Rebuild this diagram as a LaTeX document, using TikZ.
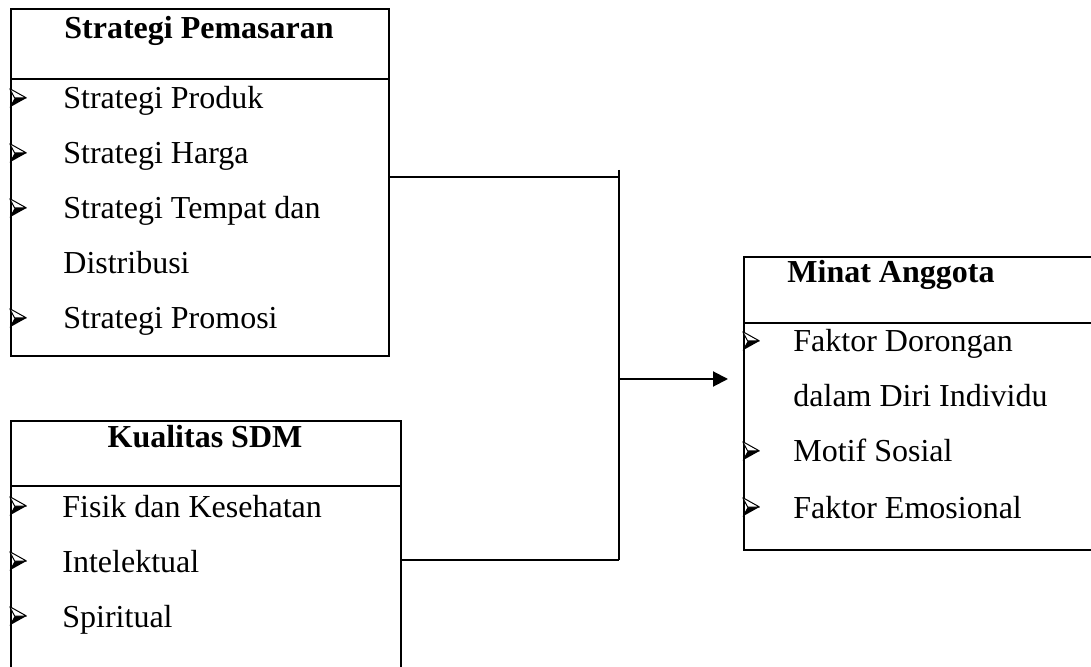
\documentclass[tikz,border=0pt]{standalone}
\usepackage{fontspec}
\setmainfont{Liberation Serif}
\usetikzlibrary{arrows.meta}
\tikzset{
  frame/.style={ % image of one variable box
    draw, rectangle, line width=1pt,
    anchor=north west, inner sep=0pt
  },
  rule/.style={ % line under the heading of a box
    line width=1pt
  },
  heading/.style={ % bold name of a variable
    anchor=base, inner sep=0pt,
    font=\fontsize{16}{19}\selectfont\bfseries
  },
  entry/.style={ % one line of an indicator
    anchor=base west, inner sep=0pt,
    font=\fontsize{16}{19}\selectfont
  },
  bulletmark/.style={ % 3-D arrowhead in front of an indicator
    rectangle, inner sep=0pt, minimum width=8.5pt, minimum height=9.5pt,
    path picture = {
      \fill[black]
      (path picture bounding box.east) --
      ([xshift=2.6pt]path picture bounding box.west) --
      (path picture bounding box.south west) -- cycle;
      \draw[black, line width=0.5pt, fill=white]
      (path picture bounding box.east) --
      (path picture bounding box.north west) --
      ([xshift=2.6pt]path picture bounding box.west) -- cycle;
    }
  },
  link/.style={
    line width=1pt
  }
}
\begin{document}
\begin{tikzpicture}[x=0.5pt, y=-0.5pt]
      \useasboundingbox (0,0) rectangle (1091,667);
      \clip (0,0) rectangle (1091,667);

      % boxes
      \node[frame, minimum width=189pt, minimum height=173.5pt] (pem) at (10,8) {};
      \node[frame, minimum width=195pt, minimum height=145pt] (sdm) at (10,420) {};
      \node[frame, minimum width=185pt, minimum height=146.5pt] (minat) at (743,256) {};

      \draw[rule] ([yshift=-35.5pt]pem.north west) -- ([yshift=-35.5pt]pem.north east);
      \draw[rule] ([yshift=-33pt]sdm.north west) -- ([yshift=-33pt]sdm.north east);
      \draw[rule] ([yshift=-33.5pt]minat.north west) -- ([yshift=-33.5pt]minat.north east);

      % headings
      \node[heading] (pem_head) at (199,39) {Strategi Pemasaran};
      \node[heading] (sdm_head) at (205,448) {Kualitas SDM};
      \node[heading, anchor=base west] (minat_head) at (787,283) {Minat Anggota};

      % Strategi Pemasaran
      \node[bulletmark] (p1_b) at (18,98) {};
      \node[entry] (p1) at (63,109) {Strategi Produk};
      \node[bulletmark] (p2_b) at (18,153) {};
      \node[entry] (p2) at (63,164) {Strategi Harga};
      \node[bulletmark] (p3_b) at (18,208) {};
      \node[entry] (p3) at (63,219) {Strategi Tempat dan};
      \node[entry] (p3_more) at (63,274) {Distribusi};
      \node[bulletmark] (p4_b) at (18,318) {};
      \node[entry] (p4) at (63,329) {Strategi Promosi};

      % Kualitas SDM
      \node[bulletmark] (s1_b) at (18,506) {};
      \node[entry] (s1) at (62,517) {Fisik dan Kesehatan};
      \node[bulletmark] (s2_b) at (18,561) {};
      \node[entry] (s2) at (62,572) {Intelektual};
      \node[bulletmark] (s3_b) at (18,616) {};
      \node[entry] (s3) at (62,627) {Spiritual};

      % Minat Anggota
      \node[bulletmark] (m1_b) at (751,341) {};
      \node[entry] (m1) at (793,352) {Faktor Dorongan};
      \node[entry] (m1_more) at (793,407) {dalam Diri Individu};
      \node[bulletmark] (m2_b) at (751,451) {};
      \node[entry] (m2) at (793,462) {Motif Sosial};
      \node[bulletmark] (m3_b) at (751,507) {};
      \node[entry] (m3) at (793,518) {Faktor Emosional};

      % connectors
      \coordinate (j_top) at (619,170);
      \coordinate (j_mid) at (619,379);
      \coordinate (j_bot) at (619,560);
      \draw[link] (j_top) -- (j_bot);
      \draw[link] ([yshift=2.75pt]pem.east) -- ([yshift=2.75pt]pem.east -| j_top);
      \draw[link] (sdm.east |- j_bot) -- (j_bot);
      \draw[link, -{Triangle[length=7.5pt, width=7.5pt]}] (j_mid) -- ([xshift=-7.5pt]minat.west |- j_mid);
    \end{tikzpicture}
\end{document}
